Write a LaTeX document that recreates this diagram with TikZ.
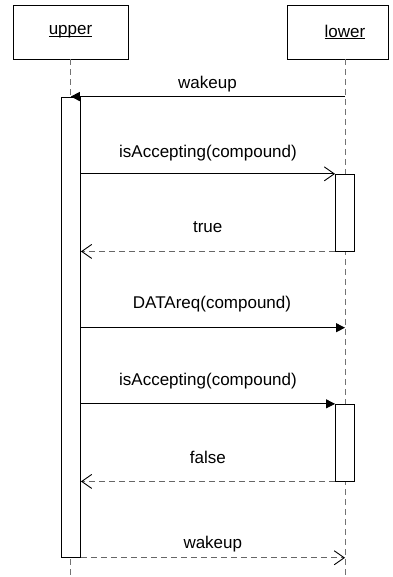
\documentclass[tikz,border=0pt]{standalone}
\usepackage{fontspec}
\setmainfont{Liberation Sans}
\usetikzlibrary{arrows.meta}

\newlength{\objnamewd}
\newcommand{\objname}[1]{\settowidth{\objnamewd}{#1}\rlap{\rule[-2.2pt]{\objnamewd}{0.9pt}}#1}

\tikzset{
    objbox/.style={draw, line width=0.9pt, fill=white, minimum height=54pt, inner sep=0pt},
    actbox/.style={draw, line width=0.9pt, fill=white, inner sep=0pt, minimum width=19pt},
    lifeline/.style={draw=black!55, line width=1pt, dash pattern=on 6pt off 4pt},
    callmsg/.style={line width=0.9pt, -{Triangle[length=9pt,width=9pt]}},
    openmsg/.style={line width=0.9pt, -{Straight Barb[length=10pt,width=14pt]}},
    retmsg/.style={draw=black!60, line width=0.9pt, dash pattern=on 6pt off 4pt,
        -{Straight Barb[length=10pt,width=14pt,color=black]}}
}

\begin{document}
\begin{tikzpicture}[x=1pt, y=-1pt, font=\fontsize{17}{20}\selectfont]
    \useasboundingbox (0,0) rectangle (392,577);
    % objects
    \node[objbox, minimum width=115pt] (upper) at (70.5,32) {\objname{upper}};
    \node[objbox, minimum width=101pt, label={[xshift=7.5pt]center:\objname{lower}}] (lower) at (337.5,32) {};
    \coordinate (upperend) at (70.5,577);
    \coordinate (lowerend) at (345,577);
    \draw[lifeline] (upper.south) -- (upperend);
    \draw[lifeline] (lower.south -| lowerend) -- (lowerend);
    % activations
    \node[actbox, minimum width=19.5pt, minimum height=460.3pt] (act0) at (70.75,327.15) {};
    \node[actbox, minimum height=76.7pt] (act1) at (345,212.65) {};
    \node[actbox, minimum height=76.7pt] (act2) at (345,442.65) {};
    \coordinate (dreq) at (345,327.7);
    % messages
    \draw[callmsg] (act0.north -| act1.center) -- (act0.north);
    \draw[openmsg] (act0.east |- act1.north) -- (act1.north west);
    \draw[retmsg] (act1.south west) -- (act0.east |- act1.south);
    \draw[callmsg] (act0.east |- dreq) -- (dreq);
    \draw[callmsg] (act0.east |- act2.north) -- (act2.north west);
    \draw[retmsg] (act2.south west) -- (act0.east |- act2.south);
    \draw[retmsg] (act0.south east) -- (act0.south east -| act1.center);
    % labels
    \node (wake1) at (207.5,83.7) {wakeup};
    \node (acc1) at (208,152.8) {isAccepting(compound)};
    \node (true) at (207.7,227.5) {true};
    \node (data) at (212,304.2) {DATAreq(compound)};
    \node (acc2) at (208,381.3) {isAccepting(compound)};
    \node (false) at (207.8,457.5) {false};
    \node (wake2) at (212.8,543.7) {wakeup};
\end{tikzpicture}
\end{document}
